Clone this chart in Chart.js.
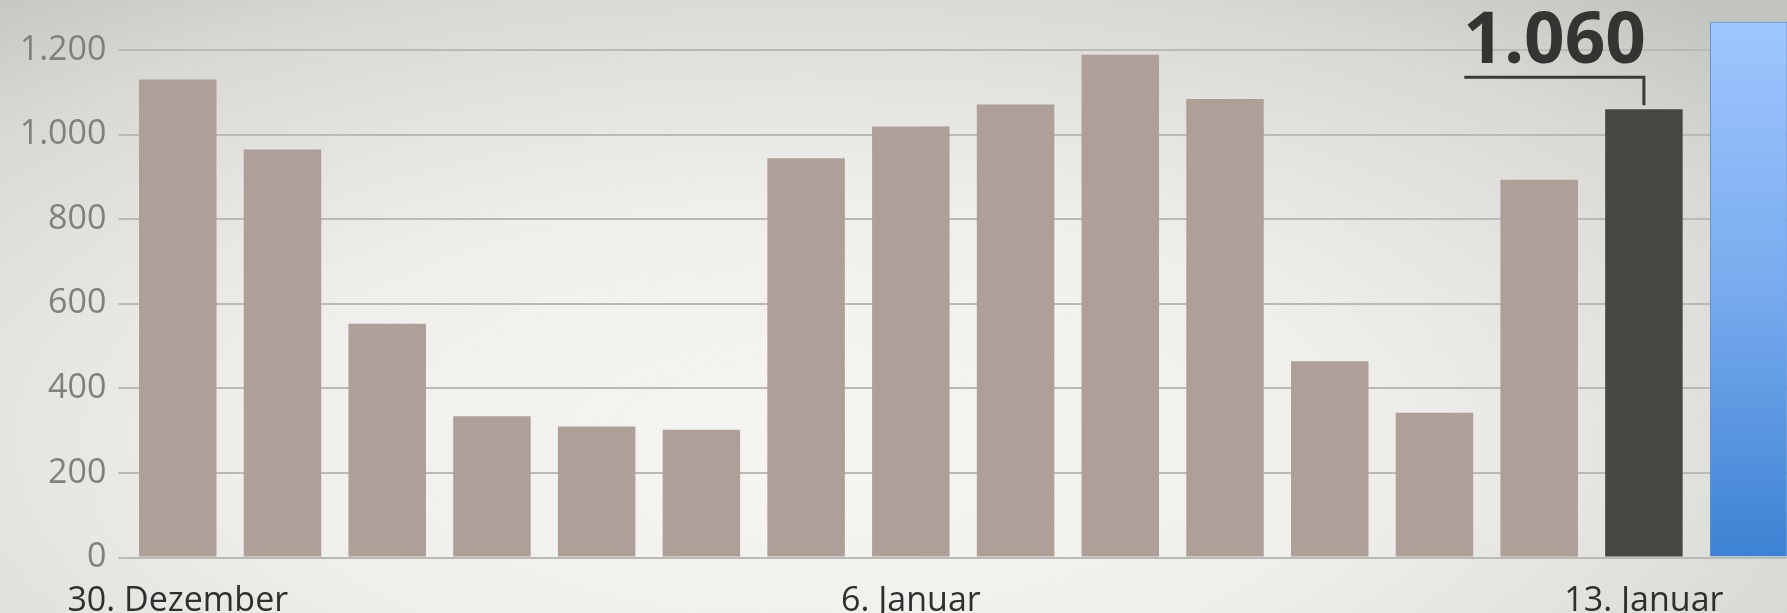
<!DOCTYPE html>
<html lang="de">
<head>
<meta charset="utf-8">
<title>Tageswerte 30. Dezember bis 13. Januar</title>
<script src="https://cdn.jsdelivr.net/npm/chart.js@4/dist/chart.umd.min.js"></script>
<style>
  html, body {
    margin: 0;
    padding: 0;
    width: 1787px;
    height: 613px;
    overflow: hidden;
    background: radial-gradient(ellipse 75% 95% at 45% 72%, #f5f5f2 0%, #efefec 40%, #d9d9d4 80%, #c4c4bf 100%);
  }
  #wrap { position: absolute; left: 0; top: 0; width: 1801px; height: 613px; }
</style>
</head>
<body>
<div id="wrap"><canvas id="chart" width="1801" height="613"></canvas></div>
<script>
// Daily values, one per day; the last bar is the next day's (partly visible) column
const categories = [
  "30. Dezember", "31. Dezember", "1. Januar", "2. Januar", "3. Januar", "4. Januar",
  "5. Januar", "6. Januar", "7. Januar", "8. Januar", "9. Januar", "10. Januar",
  "11. Januar", "12. Januar", "13. Januar", "14. Januar"
];
const values = [1130, 965, 553, 334, 310, 302, 944, 1019, 1071, 1189, 1084, 464, 342, 893, 1060, 1267];
const tickLabels = [
  "30. Dezember", "", "", "", "", "", "", "6. Januar", "", "", "", "", "", "", "13. Januar", ""
];
const yTicks = [0, 200, 400, 600, 800, 1000, 1200];
const highlightIndex = 14;
const nextIndex = 15;

// German thousands separator: 1060 -> "1.060"
function fmt(n) {
  return String(Math.round(n)).replace(/\B(?=(\d{3})+(?!\d))/g, ".");
}

const BAR = "#ae9f98";
const BAR_DARK = "#484643";

function barColor(ctx) {
  const i = ctx.dataIndex;
  if (i === highlightIndex) return BAR_DARK;
  if (i === nextIndex) {
    const area = ctx.chart.chartArea;
    if (!area) return "#6aa0e8";
    const yTop = ctx.chart.scales.y.getPixelForValue(values[nextIndex]);
    const g = ctx.chart.ctx.createLinearGradient(0, yTop, 0, area.bottom);
    g.addColorStop(0, "#a0c6ff");
    g.addColorStop(0.5, "#78abee");
    g.addColorStop(1, "#3d82d3");
    return g;
  }
  return BAR;
}

// Value callout with bracket above the highlighted bar
const calloutPlugin = {
  id: "callout",
  afterDatasetsDraw(chart) {
    const bar = chart.getDatasetMeta(0).data[highlightIndex];
    if (!bar) return;
    const c = chart.ctx;
    const text = fmt(values[highlightIndex]);
    c.save();
    c.font = "bold 71px 'Open Sans'";
    c.fillStyle = "#353432";
    c.textAlign = "right";
    c.textBaseline = "alphabetic";
    const right = bar.x + 2;
    c.fillText(text, right, bar.y - 46);
    const w = c.measureText(text).width;
    c.strokeStyle = "#3a3936";
    c.lineWidth = 3;
    c.beginPath();
    c.moveTo(right - w + 1, bar.y - 32);
    c.lineTo(bar.x, bar.y - 32);
    c.lineTo(bar.x, bar.y - 4);
    c.stroke();
    c.restore();
  }
};

new Chart(document.getElementById("chart"), {
  type: "bar",
  data: {
    labels: categories,
    datasets: [{
      data: values,
      backgroundColor: barColor,
      borderColor: (ctx) => ctx.dataIndex === nextIndex ? "#4b88d6" : "rgba(0,0,0,0)",
      borderWidth: (ctx) => ctx.dataIndex === nextIndex ? 1 : 0,
      categoryPercentage: 1,
      barPercentage: 0.74,
      clip: false
    }]
  },
  options: {
    responsive: false,
    devicePixelRatio: 1,
    animation: false,
    layout: { padding: { top: 50, left: 0, right: 0, bottom: 0 } },
    plugins: {
      legend: { display: false },
      tooltip: { enabled: false }
    },
    scales: {
      x: {
        grid: { display: false, drawTicks: false },
        border: { display: false },
        afterFit(axis) { axis.height = 55.5; },
        ticks: {
          autoSkip: false,
          maxRotation: 0,
          minRotation: 0,
          padding: 23,
          color: "#302f2e",
          font: { family: "'Open Sans'", size: 34 },
          callback: (v, i) => tickLabels[i]
        }
      },
      y: {
        min: 0,
        max: 1200,
        afterFit(axis) { axis.width = 125.4; },
        afterBuildTicks(axis) { axis.ticks = yTicks.map(v => ({ value: v })); },
        grid: { color: "#b9b9b5", lineWidth: 2, drawTicks: true, tickLength: 7 },
        border: { display: false },
        ticks: {
          padding: 12,
          color: "#80807e",
          font: { family: "'Open Sans'", size: 34 },
          callback: (v) => fmt(v)
        }
      }
    }
  },
  plugins: [calloutPlugin]
});
</script>
</body>
</html>
